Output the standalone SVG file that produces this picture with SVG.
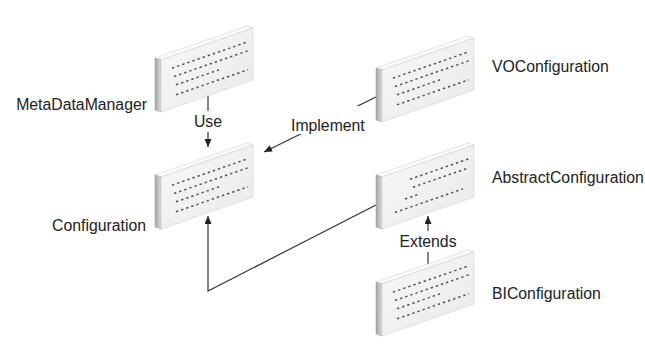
<svg xmlns="http://www.w3.org/2000/svg" width="645" height="345" viewBox="0 0 645 345">
<style>
.lbl{font-family:"Liberation Sans",Arial,sans-serif;font-size:15.8px;fill:#222}
.conn{stroke:#333;stroke-width:1.2;fill:none}
.dots{stroke:#555;stroke-width:1.5;stroke-dasharray:2.4 3;fill:none}
.bg{fill:#fff}
</style>
<defs>
<linearGradient id="side" x1="0" y1="0" x2="1" y2="0">
<stop offset="0" stop-color="#a0a0a0"/>
<stop offset="1" stop-color="#dedede"/>
</linearGradient>
<linearGradient id="front" x1="0" y1="0" x2="1" y2="1">
<stop offset="0" stop-color="#f8f8f8"/>
<stop offset="1" stop-color="#e9e9e9"/>
</linearGradient>
<marker id="arr" markerWidth="8" markerHeight="7" refX="8" refY="3.5" orient="auto" markerUnits="userSpaceOnUse">
<path d="M0,0 L8,3.5 L0,7 z" fill="#222"/>
</marker>
<g id="slab">
<polygon points="6,34 98,2 92,0 0,32" fill="#fbfbfb" stroke="#d0d0d0" stroke-width="0.6"/>
<polygon points="0,32 6,34 6,86 0,84" fill="url(#side)" stroke="#aaa" stroke-width="0.6"/>
<polygon points="6,34 98,2 98,54 6,86" fill="url(#front)" stroke="#d0d0d0" stroke-width="0.6"/>
</g>
<g id="dotsStd">
<line class="dots" x1="17" y1="42.17" x2="91" y2="16.42"/>
<line class="dots" x1="19" y1="50.48" x2="93" y2="24.72"/>
<line class="dots" x1="21" y1="58.78" x2="64" y2="43.82"/>
<line class="dots" x1="21" y1="68.78" x2="93" y2="43.72"/>
</g>
<g id="dotsAbs">
<line class="dots" x1="34" y1="36.26" x2="93" y2="15.72"/>
<line class="dots" x1="37" y1="44.21" x2="93" y2="24.72"/>
<line class="dots" x1="29" y1="56" x2="42" y2="51.47"/>
<line class="dots" x1="19" y1="69.48" x2="87" y2="45.81"/>
</g>
</defs>
<rect width="645" height="345" fill="#fff"/>
<g id="connectors">
<line class="conn" x1="208" y1="96" x2="208" y2="147" marker-end="url(#arr)"/>
<line class="conn" x1="376" y1="97" x2="264" y2="152" marker-end="url(#arr)"/>
<line class="conn" x1="428" y1="268" x2="428" y2="216" marker-end="url(#arr)"/>
<polyline class="conn" points="376,205 208,291 208,216" marker-end="url(#arr)"/>
<rect class="bg" x="193" y="111" width="30" height="21"/>
<text class="lbl" x="208" y="126.5" text-anchor="middle">Use</text>
<rect class="bg" x="289" y="106" width="77" height="28"/>
<text class="lbl" x="291" y="130.5">Implement</text>
<rect class="bg" x="398" y="231" width="60" height="21"/>
<text class="lbl" x="428" y="246.5" text-anchor="middle">Extends</text>
</g>
<g id="MetaDataManager">
<use href="#slab" transform="translate(155,26)"/>
<use href="#dotsStd" transform="translate(155,26)"/>
<text class="lbl" x="147" y="110" text-anchor="end">MetaDataManager</text>
</g>
<g id="Configuration">
<use href="#slab" transform="translate(155,143)"/>
<use href="#dotsStd" transform="translate(155,143)"/>
<text class="lbl" x="146" y="231" text-anchor="end">Configuration</text>
</g>
<g id="VOConfiguration">
<use href="#slab" transform="translate(376,36)"/>
<use href="#dotsStd" transform="translate(376,36)"/>
<text class="lbl" x="492" y="72">VOConfiguration</text>
</g>
<g id="AbstractConfiguration">
<use href="#slab" transform="translate(376,143)"/>
<use href="#dotsAbs" transform="translate(376,143)"/>
<text class="lbl" x="492" y="183">AbstractConfiguration</text>
</g>
<g id="BIConfiguration">
<use href="#slab" transform="translate(376,250)"/>
<use href="#dotsStd" transform="translate(376,250)"/>
<text class="lbl" x="492" y="299">BIConfiguration</text>
</g>
</svg>
